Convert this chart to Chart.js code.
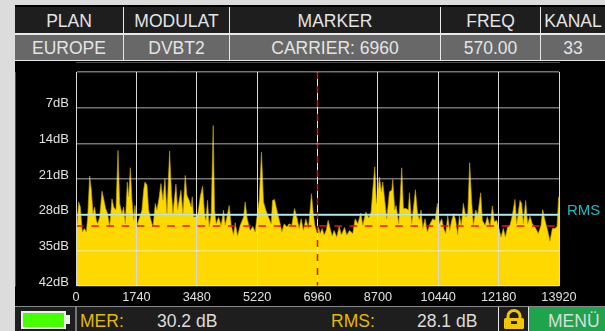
<!DOCTYPE html>
<html>
<head>
<meta charset="utf-8">
<script src="https://cdn.jsdelivr.net/npm/chart.js@4"></script>
<style>
  html, body { margin: 0; padding: 0; background: #dcdcdc; overflow: hidden; }
  body { width: 605px; height: 331px; position: relative; font-family: "Liberation Sans", sans-serif; }
  .abs { position: absolute; }
  #panel { left: 15px; top: 5px; width: 590px; height: 326px; background: #000; }
  .cell { position: absolute; height: 26px; line-height: 29px; text-align: center; color: #e4e4e4; font-size: 17.5px; white-space: nowrap; }
  .head { top: 7px; background: #1e1e1e; }
  .val { top: 35px; height: 25px; line-height: 27px; background: #686868; }
  .rule { position: absolute; background: #e8e8e8; }
  #chartBox { left: 15px; top: 62px; width: 590px; height: 244px; }
  #rmsTag { left: 567px; top: 201px; color: #1cbcc4; font-size: 15px; }
  #bar { left: 15px; top: 306px; width: 590px; height: 25px; background: #1e1e1e; border-top: 1px solid #888; box-sizing: border-box; }
  .foot { position: absolute; top: 311px; line-height: 20px; font-size: 17.5px; white-space: nowrap; color: #dcdcdc; }
  .gold { color: #e3bb00; }
  #batt { left: 21px; top: 311px; width: 41px; height: 14px; border: 2px solid #eee; background: #46ff00; }
  #battTip { left: 66px; top: 315px; width: 4px; height: 9px; background: #eee; }
  #menu { left: 529px; top: 307px; width: 76px; height: 24px; background: #1fa34c; }
</style>
</head>
<body>
<div id="panel" class="abs"></div>
<div id="headers"></div>
<div class="rule" style="left:15px;top:33px;width:590px;height:2px"></div>
<div class="rule" style="left:15px;top:60px;width:590px;height:1px"></div>
<div class="rule" style="left:123px;top:7px;width:1px;height:54px"></div>
<div class="rule" style="left:229px;top:7px;width:1px;height:54px"></div>
<div class="rule" style="left:440px;top:7px;width:1px;height:54px"></div>
<div class="rule" style="left:540px;top:7px;width:1px;height:54px"></div>
<div id="chartBox" class="abs"><canvas id="spectrum"></canvas></div>
<div id="rmsTag" class="abs">RMS</div>
<div id="bar" class="abs"></div>
<div id="batt" class="abs"></div>
<div id="battTip" class="abs"></div>
<div class="rule" style="left:75px;top:307px;width:2px;height:24px;background:#777"></div>
<div class="foot gold" style="left:80px">MER:</div>
<div class="foot" style="left:157px">30.2 dB</div>
<div class="foot gold" style="left:331px">RMS:</div>
<div class="foot" style="left:417px">28.1 dB</div>
<div class="rule" style="left:498px;top:307px;width:1px;height:24px"></div>
<svg class="abs" style="left:502px;top:309px" width="24" height="20" viewBox="0 0 24 20">
  <path d="M6 10V7a6 5.5 0 0 1 12 0v3" fill="none" stroke="#f3c600" stroke-width="3"/>
  <rect x="2" y="9" width="20" height="11" rx="1.5" fill="#f3c600"/>
  <rect x="9" y="12" width="6" height="3" fill="#1e1e1e"/>
</svg>
<div class="rule" style="left:528px;top:307px;width:1px;height:24px"></div>
<div id="menu" class="abs"></div>
<div class="foot" style="left:548px">MENÜ</div>

<script>
const headerLabels = ["PLAN", "MODULAT", "MARKER", "FREQ", "KANAL"];
const headerValues = ["EUROPE", "DVBT2", "CARRIER: 6960", "570.00", "33"];

const carriers = [
  0, 29, 77, 125, 182, 240, 298, 336, 394, 442, 490, 538, 586, 624, 682, 749, 797, 854, 912, 970,
  1037, 1085, 1152, 1210, 1258, 1325, 1373, 1421, 1478, 1517, 1565, 1613, 1661, 1699, 1757, 1834, 1901, 1949, 1987, 2045,
  2093, 2160, 2218, 2285, 2333, 2390, 2448, 2506, 2563, 2621, 2698, 2746, 2794, 2880, 2928, 3024, 3082, 3148, 3196, 3263,
  3321, 3350, 3388, 3455, 3513, 3580, 3647, 3705, 3743, 3791, 3839, 3897, 3954, 3993, 4041, 4108, 4185, 4252, 4300, 4348,
  4415, 4473, 4540, 4588, 4655, 4732, 4828, 4876, 4934, 5020, 5097, 5164, 5231, 5279, 5346, 5404, 5471, 5548, 5625, 5663,
  5721, 5788, 5884, 5932, 5999, 6076, 6143, 6220, 6297, 6364, 6431, 6489, 6556, 6623, 6700, 6786, 6834, 6882, 6940, 6988,
  7036, 7094, 7151, 7209, 7266, 7324, 7382, 7439, 7516, 7583, 7650, 7737, 7804, 7881, 7977, 8044, 8121, 8207, 8265, 8351,
  8438, 8505, 8553, 8610, 8658, 8745, 8802, 8841, 8898, 8956, 9033, 9100, 9129, 9186, 9225, 9302, 9388, 9436, 9513, 9580,
  9609, 9676, 9782, 9839, 9897, 9945, 9993, 10060, 10127, 10204, 10281, 10348, 10415, 10473, 10540, 10598, 10655, 10713, 10770, 10828,
  10886, 10943, 11001, 11049, 11106, 11164, 11231, 11289, 11346, 11404, 11452, 11519, 11577, 11663, 11711, 11788, 11855, 11932, 11999, 12057,
  12124, 12191, 12249, 12316, 12374, 12441, 12508, 12575, 12652, 12700, 12796, 12844, 12892, 12959, 13017, 13084, 13151, 13228, 13324, 13401,
  13449, 13516, 13593, 13660, 13727, 13804, 13862, 13910, 13920
];
const levels = [
  28.1, 29.8, 25.5, 26.5, 31.4, 30.7, 31.4, 28.5, 20.4, 23.2, 27.8, 26.5, 29.1, 29.8, 28.5, 23.4, 24.9, 26.8, 27.8, 30.4,
  24.9, 26.5, 27.1, 15.4, 25.8, 27.8, 26.5, 29.8, 21.6, 24.5, 18.8, 25.2, 29.1, 26.2, 30.1, 28.5, 27.1, 23.2, 21.6, 22.2,
  27.1, 29.1, 30.4, 25.8, 27.1, 24.9, 21.9, 25.2, 20.9, 27.8, 15.5, 23.2, 27.8, 22.0, 27.1, 23.2, 27.8, 20.3, 24.2, 25.2,
  26.5, 24.5, 28.4, 28.4, 27.8, 24.5, 22.4, 27.8, 29.1, 25.2, 30.4, 27.8, 10.5, 27.1, 29.8, 28.5, 30.1, 27.1, 30.1, 28.5,
  26.2, 30.1, 32.0, 29.6, 32.2, 30.1, 28.5, 25.5, 28.8, 31.1, 30.3, 31.4, 27.5, 25.2, 15.7, 25.5, 27.1, 28.5, 29.8, 25.2,
  25.0, 27.1, 29.8, 31.4, 29.8, 30.4, 29.8, 30.1, 26.8, 28.5, 30.7, 28.8, 31.1, 28.8, 30.7, 23.9, 27.5, 30.1, 31.4, 30.4,
  31.7, 30.7, 32.0, 31.1, 29.1, 30.7, 32.2, 31.1, 32.4, 30.3, 32.0, 30.5, 32.0, 31.1, 31.7, 28.8, 29.8, 27.7, 30.1, 27.5,
  28.6, 27.5, 23.2, 18.6, 25.8, 20.6, 23.5, 21.6, 25.2, 28.8, 23.5, 23.2, 21.1, 27.1, 26.2, 29.8, 18.8, 26.8, 26.8, 27.1,
  23.7, 29.8, 23.1, 27.5, 29.1, 27.1, 30.7, 28.8, 31.4, 29.8, 28.8, 29.1, 25.8, 29.8, 28.8, 30.7, 31.7, 28.1, 31.1, 29.1,
  27.8, 29.1, 32.0, 28.1, 30.1, 25.8, 28.4, 28.1, 17.8, 25.5, 30.1, 27.1, 28.1, 23.7, 29.1, 30.1, 28.4, 30.4, 26.3, 29.4,
  29.1, 30.7, 32.4, 30.7, 32.4, 30.3, 30.1, 28.1, 25.0, 29.8, 25.2, 25.8, 29.8, 25.2, 29.8, 28.3, 29.8, 30.4, 31.7, 30.1,
  27.0, 29.1, 31.1, 33.2, 30.7, 30.7, 30.3, 24.5, 25.0
];

const xTicks = [0, 1740, 3480, 5220, 6960, 8700, 10440, 12180, 13920];
const yTicks = [0, 7, 14, 21, 28, 35, 42];
const rmsLevel = 28;
const merLevel = 30.2;
const markerCarrier = 6960;

// header table
const cols = [[15, 123], [124, 229], [230, 440], [441, 540], [541, 605]];
const holder = document.getElementById("headers");
cols.forEach(([l, r], i) => {
  holder.insertAdjacentHTML("beforeend",
    `<div class="cell head" style="left:${l}px;width:${r - l}px">${headerLabels[i]}</div>` +
    `<div class="cell val" style="left:${l}px;width:${r - l}px">${headerValues[i]}</div>`);
});

const spectrum = carriers.map((c, i) => ({ x: c, y: levels[i] }));

// tick label overhang would push the plot area away from the fixed padding
const noOverhang = (axis) => {
  axis.paddingTop = 0;
  axis.paddingBottom = 0;
  axis.paddingLeft = 0;
  axis.paddingRight = 0;
};

new Chart(document.getElementById("spectrum"), {
  type: "line",
  data: {
    datasets: [
      {
        data: spectrum,
        borderWidth: 0.8,
        borderColor: "rgba(190,160,0,0.8)",
        backgroundColor: "#ffd800",
        fill: "start",
        pointRadius: 0,
        tension: 0,
        order: 5,
      },
      {
        data: [{ x: 0, y: merLevel }, { x: 13920, y: merLevel }],
        borderColor: "#ee1018",
        borderWidth: 1.5,
        borderDash: [7.6, 7.6],
        pointRadius: 0,
        order: 4,
      },
      {
        data: [{ x: 0, y: rmsLevel }, { x: 13920, y: rmsLevel }],
        borderColor: "#72dcdc",
        borderWidth: 2,
        pointRadius: 0,
        order: 3,
      },
      {
        // white line under the marker dashes, the grid line there is switched off
        data: [{ x: markerCarrier, y: 0 }, { x: markerCarrier, y: 42 }],
        borderColor: "#e8e8e8",
        borderWidth: 1,
        pointRadius: 0,
        order: 2,
      },
      {
        data: [{ x: markerCarrier, y: 0 }, { x: markerCarrier, y: 42 }],
        borderColor: "#d8101c",
        borderWidth: 1.5,
        borderDash: [7, 7],
        pointRadius: 0,
        order: 1,
      },
    ],
  },
  options: {
    responsive: true,
    maintainAspectRatio: false,
    animation: false,
    layout: { padding: { top: 10, right: 46, left: 0, bottom: 0 } },
    plugins: { legend: { display: false }, tooltip: { enabled: false } },
    scales: {
      x: {
        type: "linear",
        min: 0,
        max: 13920,
        afterBuildTicks: (axis) => { axis.ticks = xTicks.map((value) => ({ value })); },
        afterFit: (axis) => { axis.height = 20; noOverhang(axis); },
        grid: {
          color: (ctx) => (ctx.tick && ctx.tick.value === markerCarrier ? "transparent" : "#d8d8d8"),
          lineWidth: 1,
          z: 1,
          drawTicks: false,
        },
        border: { color: "#999", width: 1 },
        ticks: {
          color: "#e0e0e0",
          font: { family: "Liberation Sans", size: 12.7 },
          maxRotation: 0,
          autoSkip: false,
          padding: 4,
          callback: (v) => String(v),
        },
      },
      y: {
        reverse: true,
        min: 0,
        max: 42,
        afterBuildTicks: (axis) => { axis.ticks = yTicks.map((value) => ({ value })); },
        afterFit: (axis) => { axis.width = 61; noOverhang(axis); },
        grid: { color: "rgba(255,255,255,0.45)", lineWidth: 1.5, z: 1, drawTicks: false },
        border: { color: "#999", width: 1 },
        ticks: {
          color: "#e0e0e0",
          font: { family: "Liberation Sans", size: 13 },
          padding: 7,
          labelOffset: -4,
          callback: (v) => (v === 0 ? "" : v + "dB"),
        },
      },
    },
  },
});
</script>
</body>
</html>
